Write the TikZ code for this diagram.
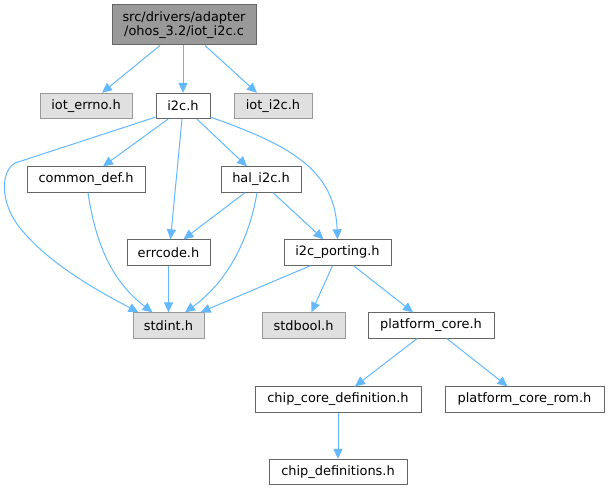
\documentclass[tikz,border=0pt]{standalone}
\usepackage{fontspec}
\setmainfont{DejaVu Sans}
\usetikzlibrary{arrows.meta,calc}
\definecolor{edgecol}{HTML}{63B8FF}
\definecolor{bordcol}{HTML}{666666}
\definecolor{gbordcol}{HTML}{999999}
\definecolor{gfill}{HTML}{E0E0E0}
\definecolor{topfill}{HTML}{999999}
\begin{document}
\begin{tikzpicture}[x=0.75pt,y=-0.75pt,
  box/.style={draw=bordcol, line width=0.75pt, fill=white, inner sep=0pt,
    minimum height=19pt, font=\fontsize{9.7}{10.5}\selectfont, text=black},
  gbox/.style={box, draw=gbordcol, fill=gfill},
  wid/.style={minimum width=#1*0.75pt},
  edge/.style={draw=edgecol, line width=0.75pt, -{Triangle[length=7.5pt,width=6.8pt]}}]
\useasboundingbox (0,0) rectangle (610,491);
% nodes
\node[box, fill=topfill, wid=144, minimum height=30pt, align=center] (top) at (184,25)
  {src/drivers/adapter\\/ohos\_3.2/iot\_i2c.c};
\node[gbox, wid=92] (errno) at (86,106) {iot\_errno.h};
\node[box, wid=54] (i2c) at (183,106) {i2c.h};
\node[gbox, wid=78] (iotiic) at (273,106) {iot\_i2c.h};
\node[box, wid=118] (cdef) at (86,179.5) {common\_def.h};
\node[box, wid=80] (hal) at (261,179.5) {hal\_i2c.h};
\node[box, wid=83] (err) at (168.5,252.5) {errcode.h};
\node[box, wid=107] (port) at (337.5,252.5) {i2c\_porting.h};
\node[gbox, wid=71] (stdint) at (168.5,325.5) {stdint.h};
\node[gbox, wid=83] (stdbool) at (303.5,325.5) {stdbool.h};
\node[box, wid=126] (pcore) at (431,325.5) {platform\_core.h};
\node[box, wid=166] (ccdef) at (338,399.5) {chip\_core\_definition.h};
\node[box, wid=159] (prom) at (524.5,399.5) {platform\_core\_rom.h};
\node[box, wid=138] (cdefs) at (338,472) {chip\_definitions.h};
% edges
\draw[edge] ($(top.south)+(-24,0)$) -- ($(errno.north)+(16,0)$);
\draw[edge] ($(top.south)+(-1,0)$) -- (i2c.north);
\draw[edge] ($(top.south)+(21,0)$) -- ($(iotiic.north)+(-16,0)$);
\coordinate (k1) at (15,163);
\coordinate (k2) at (20,228);
\draw[edge] ($(i2c.south west)+(0,-2)$) -- (k1) .. controls (2,170) and (-2,200) .. (k2)
  .. controls (50,265) and (100,292) .. ($(stdint.north west)+(6,0)$);
\draw[edge] ($(i2c.south)+(-15,0)$) -- ($(cdef.north)+(17,0)$);
\draw[edge] ($(i2c.south)+(-1,0)$) -- ($(err.north)+(2,0)$);
\draw[edge] ($(i2c.south)+(14,0)$) -- ($(hal.north)+(-14,0)$);
\draw[edge] ($(i2c.south east)+(0,-2)$) .. controls (290,145) and (335,170) .. (port.north);
\draw[edge] ($(cdef.south)+(2,0)$) .. controls (95,240) and (110,280) .. ($(stdint.north)+(-16,0)$);
\draw[edge] ($(hal.south)+(-16,0)$) -- ($(err.north)+(15,0)$);
\draw[edge] ($(hal.south)+(-4,0)$) .. controls (250,235) and (230,280) .. ($(stdint.north)+(16.5,0)$);
\draw[edge] ($(hal.south)+(12,0)$) -- ($(port.north)+(-14,0)$);
\draw[edge] (err.south) -- (stdint.north);
\draw[edge] ($(port.south)+(-27,0)$) -- ($(stdint.north)+(32,0)$);
\draw[edge] ($(port.south)+(-5,0)$) -- ($(stdbool.north)+(8,0)$);
\draw[edge] ($(port.south)+(16,0)$) -- ($(pcore.north)+(-18,0)$);
\draw[edge] ($(pcore.south)+(-14,0)$) -- ($(ccdef.north)+(17,0)$);
\draw[edge] ($(pcore.south)+(16,0)$) -- ($(prom.north)+(-17,0)$);
\draw[edge] (ccdef.south) -- (cdefs.north);
\end{tikzpicture}
\end{document}
